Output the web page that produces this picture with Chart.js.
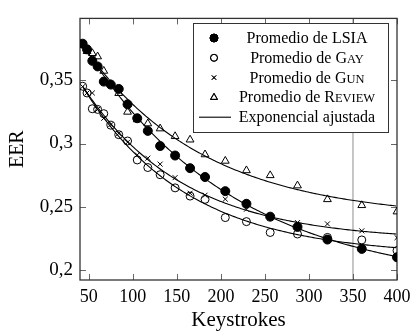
<!DOCTYPE html>
<html>
<head>
<meta charset="utf-8">
<script src="https://cdn.jsdelivr.net/npm/chart.js@4.4.0/dist/chart.umd.min.js"></script>
<style>
  html, body { margin: 0; padding: 0; background: #fff; }
  canvas { display: block; }
</style>
</head>
<body>
<canvas id="eerChart" width="418" height="333"></canvas>
<script>
// keystrokes usados en cada medición
var keystrokes = [43, 48, 54, 60, 67, 75, 84, 94, 105, 117, 131, 148, 165, 182, 205, 229, 256, 287, 321, 360, 400];

// EER promedio por conjunto de datos
var eerLSIA   = [0.379, 0.3745, 0.3654, 0.361, 0.349, 0.3466, 0.3432, 0.331, 0.320, 0.310, 0.298, 0.2905, 0.2805, 0.2735, 0.2623, 0.2523, 0.2421, 0.234, 0.224, 0.2166, 0.210];
var eerGay    = [0.3453, 0.340, 0.3275, 0.327, 0.3236, 0.3145, 0.307, 0.302, 0.287, 0.281, 0.2753, 0.2649, 0.2584, 0.2558, 0.2414, 0.2382, 0.2296, 0.2284, 0.2257, 0.2237, 0.2153];
var eerGun    = [0.345, 0.340, 0.340, 0.327, 0.320, 0.315, 0.308, 0.301, 0.291, 0.2884, 0.2837, 0.273, 0.2607, 0.2591, 0.256, 0.248, 0.241, 0.2374, 0.2364, 0.2309, 0.2255];
var eerReview = [0.378, 0.373, 0.3714, 0.3688, 0.3574, 0.347, 0.3398, 0.325, 0.319, 0.3158, 0.3118, 0.3057, 0.303, 0.2913, 0.2862, 0.2787, 0.2748, 0.2667, 0.2558, 0.2511, 0.2461];

var xTicks = [50, 100, 150, 200, 250, 300, 350, 400];
var yTicks = [0.2, 0.25, 0.3, 0.35];
var markerLineX = 350;

var SERIF = '"Liberation Serif", "Times New Roman", serif';

// ajuste y = a + b*exp(-c*x) por mínimos cuadrados (búsqueda en c, regresión lineal en a,b)
function fitExp(xs, ys) {
  var best = null;
  for (var c = 0.001; c <= 0.04; c += 0.0001) {
    var n = xs.length, sz = 0, sy = 0, szz = 0, szy = 0;
    for (var i = 0; i < n; i++) {
      var z = Math.exp(-c * xs[i]);
      sz += z; sy += ys[i]; szz += z * z; szy += z * ys[i];
    }
    var b = (n * szy - sz * sy) / (n * szz - sz * sz);
    var a = (sy - b * sz) / n;
    var sse = 0;
    for (var j = 0; j < n; j++) {
      var r = ys[j] - (a + b * Math.exp(-c * xs[j]));
      sse += r * r;
    }
    if (!best || sse < best.sse) best = { a: a, b: b, c: c, sse: sse };
  }
  return best;
}

function fitCurve(ys) {
  var f = fitExp(keystrokes, ys);
  var pts = [];
  for (var x = keystrokes[0]; x <= 400; x += 2) {
    pts.push({ x: x, y: f.a + f.b * Math.exp(-f.c * x) });
  }
  return pts;
}

function points(ys) {
  return keystrokes.map(function (x, i) { return { x: x, y: ys[i] }; });
}

function markerSet(ys, style, radius, fill) {
  return {
    data: points(ys),
    showLine: false,
    pointStyle: style,
    pointRadius: radius,
    pointHoverRadius: radius,
    pointBorderWidth: 1,
    pointBorderColor: '#000',
    pointBackgroundColor: fill
  };
}

function curveSet(ys) {
  return {
    data: fitCurve(ys),
    showLine: true,
    borderColor: '#000',
    borderWidth: 1.1,
    pointRadius: 0,
    tension: 0
  };
}

// línea vertical gris, marco y marcas interiores estilo pgfplots
var framePlugin = {
  id: 'frame',
  beforeDatasetsDraw: function (chart) {
    var ctx = chart.ctx, a = chart.chartArea;
    var xs = chart.scales.x, ys = chart.scales.y;
    ctx.save();
    var vx = xs.getPixelForValue(markerLineX);
    ctx.strokeStyle = '#b4b4b4';
    ctx.lineWidth = 1.5;
    ctx.beginPath();
    ctx.moveTo(vx, a.top);
    ctx.lineTo(vx, a.bottom);
    ctx.stroke();

    ctx.strokeStyle = '#555';
    ctx.lineWidth = 0.9;
    var t = 6;
    ctx.beginPath();
    xTicks.forEach(function (v) {
      var px = Math.round(xs.getPixelForValue(v)) + 0.5;
      ctx.moveTo(px, a.bottom); ctx.lineTo(px, a.bottom - t);
      ctx.moveTo(px, a.top); ctx.lineTo(px, a.top + t);
    });
    yTicks.forEach(function (v) {
      var py = Math.round(ys.getPixelForValue(v)) + 0.5;
      ctx.moveTo(a.left, py); ctx.lineTo(a.left + t, py);
      ctx.moveTo(a.right, py); ctx.lineTo(a.right - t, py);
    });
    ctx.stroke();

    ctx.strokeStyle = '#333';
    ctx.lineWidth = 1.3;
    ctx.strokeRect(a.left, a.top, a.right - a.left, a.bottom - a.top);
    ctx.restore();
  }
};

var legendEntries = [
  { style: 'circle', radius: 4, fill: '#000', line: false, parts: [['Promedio de LSIA', 1]] },
  { style: 'circle', radius: 3.5, fill: 'rgba(0,0,0,0)', line: false, parts: [['Promedio de G', 1], ['AY', 0.78]] },
  { style: 'crossRot', radius: 3, fill: 'rgba(0,0,0,0)', line: false, parts: [['Promedio de G', 1], ['UN', 0.78]] },
  { style: 'triangle', radius: 4, fill: 'rgba(0,0,0,0)', line: false, parts: [['Promedio de R', 1], ['EVIEW', 0.78]] },
  { style: null, line: true, parts: [['Exponencial ajustada', 1]] }
];

var legendPlugin = {
  id: 'pgfLegend',
  afterDraw: function (chart) {
    var ctx = chart.ctx;
    var box = { left: 193, top: 23, right: 388, bottom: 132 };
    var size = 16;
    ctx.save();
    ctx.fillStyle = '#fff';
    ctx.fillRect(box.left, box.top, box.right - box.left, box.bottom - box.top);
    ctx.strokeStyle = '#333';
    ctx.lineWidth = 1;
    ctx.strokeRect(box.left + 0.5, box.top + 0.5, box.right - box.left, box.bottom - box.top);

    var textCenter = 307;
    legendEntries.forEach(function (e, i) {
      var cy = 38 + i * 19.8;
      if (e.line) {
        ctx.strokeStyle = '#000';
        ctx.lineWidth = 1.1;
        ctx.beginPath();
        ctx.moveTo(199, cy);
        ctx.lineTo(231, cy);
        ctx.stroke();
      } else {
        ctx.strokeStyle = '#000';
        ctx.fillStyle = e.fill;
        ctx.lineWidth = 1;
        Chart.helpers.drawPoint(ctx, { pointStyle: e.style, radius: e.radius, borderWidth: 1 }, 214, cy);
        if (e.fill !== 'rgba(0,0,0,0)') ctx.fill();
        ctx.stroke();
      }
      // texto con versalitas
      var total = 0;
      e.parts.forEach(function (p) {
        ctx.font = (size * p[1]) + 'px ' + SERIF;
        total += ctx.measureText(p[0]).width;
      });
      var x = textCenter - total / 2;
      ctx.fillStyle = '#000';
      ctx.textBaseline = 'alphabetic';
      ctx.textAlign = 'left';
      e.parts.forEach(function (p) {
        ctx.font = (size * p[1]) + 'px ' + SERIF;
        ctx.fillText(p[0], x, cy + 5);
        x += ctx.measureText(p[0]).width;
      });
    });
    ctx.restore();
  }
};

function commaLabel(v) {
  return String(v).replace('.', ',');
}

new Chart(document.getElementById('eerChart').getContext('2d'), {
  type: 'scatter',
  data: {
    datasets: [
      markerSet(eerLSIA, 'circle', 4.5, '#000'),
      markerSet(eerGay, 'circle', 4, 'rgba(0,0,0,0)'),
      markerSet(eerGun, 'crossRot', 3.5, 'rgba(0,0,0,0)'),
      markerSet(eerReview, 'triangle', 4.5, 'rgba(0,0,0,0)'),
      curveSet(eerLSIA),
      curveSet(eerGay),
      curveSet(eerGun),
      curveSet(eerReview)
    ]
  },
  options: {
    responsive: false,
    devicePixelRatio: 1,
    animation: false,
    layout: { padding: { top: 15, right: 21, left: 0, bottom: 0 } },
    plugins: {
      legend: { display: false },
      tooltip: { enabled: false }
    },
    scales: {
      x: {
        type: 'linear',
        min: 40,
        max: 400,
        afterBuildTicks: function (s) { s.ticks = xTicks.map(function (v) { return { value: v }; }); },
        afterFit: function (s) { s.height = 53; },
        grid: { display: false, drawTicks: false },
        border: { display: false },
        ticks: {
          padding: 6,
          maxRotation: 0,
          color: '#000',
          font: { family: SERIF, size: 18 },
          callback: function (v) { return commaLabel(v); }
        },
        title: {
          display: true,
          text: 'Keystrokes',
          color: '#000',
          font: { family: SERIF, size: 21 },
          padding: { top: 2, bottom: 0 }
        }
      },
      y: {
        type: 'linear',
        min: 0.192,
        max: 0.399,
        afterBuildTicks: function (s) { s.ticks = yTicks.map(function (v) { return { value: v }; }); },
        afterFit: function (s) { s.width = 80; },
        grid: { display: false, drawTicks: false },
        border: { display: false },
        ticks: {
          padding: 7,
          color: '#000',
          font: { family: SERIF, size: 19 },
          callback: function (v) { return commaLabel(v); }
        },
        title: {
          display: true,
          text: 'EER',
          color: '#000',
          font: { family: SERIF, size: 20 },
          padding: { top: 6, bottom: 0 }
        }
      }
    }
  },
  plugins: [framePlugin, legendPlugin]
});
</script>
</body>
</html>
